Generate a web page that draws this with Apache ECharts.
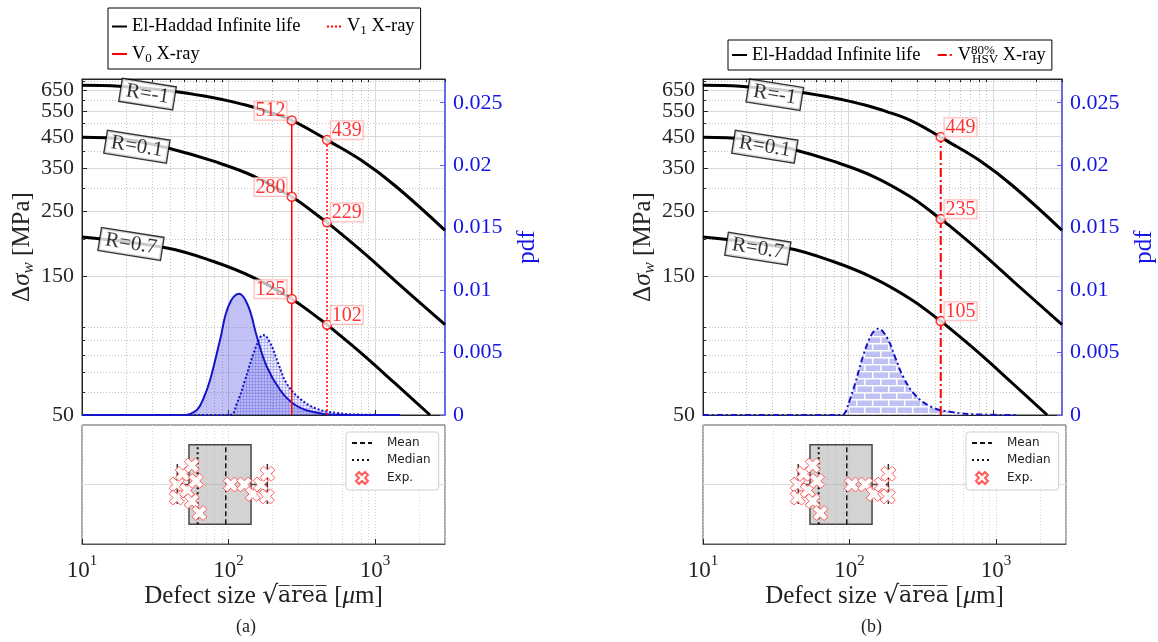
<!DOCTYPE html>
<html>
<head>
<meta charset="utf-8">
<script src="https://cdn.jsdelivr.net/npm/echarts@6/dist/echarts.min.js"></script>
<style>
  html, body { margin: 0; padding: 0; background: #fff; }
  #chart { width: 1158px; height: 642px; }
</style>
</head>
<body>
<div id="chart"></div>
<script>
// ---- El-Haddad infinite-life curves: [sqrt(area) in µm, Δσw in MPa] ----
const elHaddadRm1 = [[10, 676], [18, 671], [42, 645], [79, 612], [108, 592], [133, 577], [183, 550],
  [270, 512], [437, 449], [470, 439], [815, 372], [1377, 305], [3000, 215]];
const elHaddadR01 = [[10, 448], [20, 440], [42, 407], [79, 371], [148, 330], [270, 280],
  [437, 235], [470, 229], [815, 182], [1377, 144], [3000, 102]];
const elHaddadR07 = [[10, 204], [38, 187], [79, 168], [148, 148], [270, 125],
  [437, 105], [470, 102], [815, 81], [1377, 64], [2370, 50]];

// ---- defect-size probability densities: [sqrt(area) in µm, pdf] ----
const pdfV0 = [[10, 0], [50, 0], [60.7, 0.0004], [67.3, 0.0013], [74.8, 0.0028], [87.5, 0.006],
  [99.7, 0.0087], [118, 0.0097], [136.5, 0.0087], [155.8, 0.0063], [182, 0.0039], [225, 0.002],
  [277, 0.0009], [360, 0.0003], [519, 0.00003], [1480, 0]];
const pdfV1 = [[10, 0], [102, 0], [113.8, 0.0009], [129.6, 0.0028], [147.6, 0.0049], [164, 0.0062],
  [173, 0.0064], [192, 0.0058], [219, 0.0041], [250, 0.0025], [308, 0.0013], [400, 0.0005],
  [548, 0.00016], [789, 0.00003], [1480, 0]];
const pdfHSV = [[10, 0], [91, 0], [95.7, 0.0002], [103, 0.0012], [112, 0.0025], [128.7, 0.0049],
  [146.7, 0.0065], [162, 0.0069], [186, 0.0062], [212, 0.0046], [242, 0.003], [291, 0.0016],
  [378, 0.00064], [518, 0.00024], [789, 0.00005], [1480, 0]];

// ---- critical defect sizes and the resulting limits on each curve ----
const sizeV0 = 270, sizeV1 = 470, sizeHSV = 437;
const limitsV0 = [512, 280, 125];
const limitsV1 = [439, 229, 102];
const limitsHSV = [449, 235, 105];

// ---- experimental defects: [sqrt(area) in µm, vertical jitter] ----
const expDefects = [[44.3, 0.50], [44.3, 0.39], [48.7, 0.59], [51.9, 0.45], [56.1, 0.66], [56.1, 0.36],
  [60.0, 0.53], [63.2, 0.26], [103.5, 0.50], [128.2, 0.50], [146.3, 0.42], [165.9, 0.50],
  [184.1, 0.59], [182.3, 0.40]];
// whisker low, Q1, median, Q3, whisker high; then the mean
const boxStats = [44.7, 53.7, 61.6, 142.4, 184];
const meanSize = 95.7;

// ---- tick values ----
const sizeMajor = [10, 100, 1000];
const sizeMinor = [20, 30, 40, 50, 60, 70, 80, 90, 200, 300, 400, 500, 600, 700, 800, 900, 2000, 3000];
const stressTicks = [50, 150, 250, 350, 450, 550, 650];
const stressMinor = [60, 70, 80, 90, 100, 200, 300, 400, 500, 600, 700];
const pdfTicks = [0, 0.005, 0.01, 0.015, 0.02, 0.025];

// curve labels: [µm, MPa, text]
const curveLabelsA = [[28, 630, 'R=-1'], [23.7, 416, 'R=0.1'], [21.6, 193, 'R=0.7']];
const curveLabelsB = [[31.3, 627, 'R=-1'], [26.7, 416, 'R=0.1'], [23.9, 186, 'R=0.7']];

// ---- styling ----
const SERIF = '"Liberation Serif", "DejaVu Serif", serif';
const SANS = '"DejaVu Sans", sans-serif';
const AX = '#262626';
const RED = '#ff0000';
const BLUE = '#1414c8';
const BLUE_AXIS = '#1515e6';
const MAJ = '#d9d9d9';
const MIN = '#c2c2c2';
const BOX_LOW = 0.166, BOX_HIGH = 0.834, CAP_LOW = 0.336, CAP_HIGH = 0.672;

// fill patterns
function gridPattern() {
  const c = document.createElement('canvas');
  c.width = 3; c.height = 3;
  const g = c.getContext('2d');
  g.fillStyle = 'rgba(120,120,235,0.18)';
  g.fillRect(0, 0, 3, 3);
  g.fillStyle = 'rgba(80,80,225,0.45)';
  g.fillRect(0, 0, 3, 1);
  g.fillRect(0, 0, 1, 3);
  return c;
}
function brickPattern() {
  const c = document.createElement('canvas');
  c.width = 16; c.height = 14;
  const g = c.getContext('2d');
  g.fillStyle = '#a6a9ee';
  g.fillRect(0, 0, 16, 14);
  g.fillStyle = '#ffffff';
  g.fillRect(0, 0, 16, 1.5);
  g.fillRect(0, 7, 16, 1.5);
  g.fillRect(0, 0, 1.5, 7);
  g.fillRect(8, 7, 1.5, 7);
  return c;
}

const X_SYMBOL = 'path://M1,0 L2,1 L3,0 L4,1 L3,2 L4,3 L3,4 L2,3 L1,4 L0,3 L1,2 L0,1 Z';

const panels = [
  { left: 82, captionX: 236, caption: '(a)', labels: curveLabelsA },
  { left: 703, captionX: 861, caption: '(b)', labels: curveLabelsB }
];

const grid = [], xAxis = [], yAxis = [], series = [];

function sizeLabel(v) {
  return '{b|10}{s|' + Math.round(Math.log10(v)) + '}';
}
const stressLabelStyle = { margin: 8, fontFamily: SERIF, fontSize: 22, color: AX };

panels.forEach((pn, p) => {
  grid.push({ left: pn.left, top: 79, width: 363, height: 336, show: true, borderColor: AX, borderWidth: 1 });
  grid.push({ left: pn.left, top: 425, width: 363, height: 119, show: true, borderColor: '#555', borderWidth: 1 });
  const gTop = 2 * p, gBot = 2 * p + 1;

  // x axes: upper plot (major + minor), lower strip (major + minor)
  xAxis.push({
    type: 'log', gridIndex: gTop, min: 10, max: 3000, position: 'bottom',
    axisLine: { show: true, lineStyle: { color: AX } },
    axisTick: { show: true, inside: true, length: 5, customValues: sizeMajor, lineStyle: { color: AX } },
    axisLabel: { show: false },
    splitLine: { show: true, lineStyle: { color: MAJ, width: 1 } }
  });
  xAxis.push({
    type: 'log', gridIndex: gTop, min: 10, max: 3000, position: 'top',
    axisLine: { show: true, lineStyle: { color: AX } },
    axisTick: { show: true, inside: true, length: 3, customValues: sizeMinor, lineStyle: { color: AX } },
    axisLabel: { show: false },
    splitLine: { show: true, lineStyle: { color: MIN, width: 1, type: [1, 2] } }
  });
  xAxis.push({
    type: 'log', gridIndex: gBot, min: 10, max: 3000, position: 'bottom',
    axisLine: { show: true, lineStyle: { color: '#555' } },
    axisTick: { show: true, inside: true, length: 5, customValues: sizeMajor, lineStyle: { color: '#222' } },
    axisLabel: {
      show: true, customValues: sizeMajor, margin: 10, formatter: sizeLabel,
      showMinLabel: true, showMaxLabel: true, hideOverlap: false,
      rich: {
        b: { fontFamily: SERIF, fontSize: 23, color: '#222', lineHeight: 28, verticalAlign: 'bottom' },
        s: { fontFamily: SERIF, fontSize: 15, color: '#222', lineHeight: 15, verticalAlign: 'top' }
      }
    },
    splitLine: { show: true, lineStyle: { color: '#cfcfcf', width: 1, type: [1, 2] } },
    name: '{t|Defect size }{r|√}{o|a\u0305r\u0305e\u0305a\u0305}{t| [}{m|μ}{t|m]}',
    nameLocation: 'middle', nameGap: 40,
    nameTextStyle: {
      rich: {
        t: { fontFamily: SERIF, fontSize: 25, color: '#222' },
        r: { fontFamily: '"DejaVu Serif", serif', fontSize: 25, color: '#222' },
        o: { fontFamily: '"DejaVu Serif", serif', fontSize: 22, color: '#222' },
        m: { fontFamily: SERIF, fontSize: 25, fontStyle: 'italic', color: '#222' }
      }
    }
  });
  xAxis.push({
    type: 'log', gridIndex: gBot, min: 10, max: 3000, position: 'top',
    axisLine: { show: false }, axisTick: { show: false, customValues: sizeMinor }, axisLabel: { show: false },
    splitLine: { show: true, lineStyle: { color: '#d6d6d6', width: 1, type: [1, 2] } }
  });

  // y axes: stress (major + minor), pdf, lower strip
  // the topmost stress label sits on the minor-grid axis so the two close labels both stay visible
  yAxis.push({
    type: 'log', gridIndex: gTop, min: 50, max: 710, position: 'left',
    axisLine: { show: true, lineStyle: { color: AX } },
    axisTick: { show: true, inside: true, length: 5, customValues: stressTicks, lineStyle: { color: AX } },
    axisLabel: Object.assign({ show: true, customValues: stressTicks.slice(0, -1) }, stressLabelStyle),
    splitLine: { show: true, lineStyle: { color: MAJ, width: 1 } },
    name: '{d|Δ}{s|σ}{w|w}{t| [MPa]}', nameLocation: 'middle', nameRotate: 90, nameGap: 40,
    nameTextStyle: {
      rich: {
        d: { fontFamily: SERIF, fontSize: 25, color: AX },
        s: { fontFamily: SERIF, fontSize: 25, fontStyle: 'italic', color: AX },
        w: { fontFamily: SERIF, fontSize: 17, fontStyle: 'italic', color: AX, lineHeight: 14, verticalAlign: 'bottom' },
        t: { fontFamily: SERIF, fontSize: 25, color: AX, lineHeight: 30 }
      }
    }
  });
  yAxis.push({
    type: 'log', gridIndex: gTop, min: 50, max: 710, position: 'left',
    axisLine: { show: false },
    axisTick: { show: true, inside: true, length: 3, customValues: stressMinor, lineStyle: { color: AX } },
    axisLabel: Object.assign({ show: true, customValues: stressTicks.slice(-1) }, stressLabelStyle),
    splitLine: { show: true, lineStyle: { color: MIN, width: 1, type: [1, 2] } }
  });
  yAxis.push({
    type: 'value', gridIndex: gTop, min: 0, max: 0.0269, position: 'right',
    axisLine: { show: true, lineStyle: { color: '#5a5aff', width: 1.5 } },
    axisTick: { show: true, inside: true, length: 5, customValues: pdfTicks, lineStyle: { color: '#5a5aff' } },
    axisLabel: { show: true, customValues: pdfTicks, margin: 8, fontFamily: SERIF, fontSize: 22, color: BLUE_AXIS,
      formatter: v => (v === 0 ? '0' : String(+v.toFixed(3))) },
    splitLine: { show: false },
    name: 'pdf', nameLocation: 'middle', nameRotate: 90, nameGap: 70,
    nameTextStyle: { fontFamily: SERIF, fontSize: 25, color: BLUE_AXIS }
  });
  yAxis.push({
    type: 'value', gridIndex: gBot, min: 0, max: 1,
    axisLine: { show: false }, axisTick: { show: false, customValues: [0.5] }, axisLabel: { show: false },
    splitLine: { show: true, lineStyle: { color: '#dedede', width: 1 } }
  });

  const xi = 4 * p, yi = 4 * p;

  // probability densities
  if (p === 0) {
    series.push({
      type: 'line', name: 'pdf V0', xAxisIndex: xi, yAxisIndex: yi + 2, data: pdfV0, smooth: 0.4,
      symbol: 'none', silent: true, z: 2, itemStyle: { color: BLUE },
      lineStyle: { color: BLUE, width: 2 }, areaStyle: { color: 'rgba(60,60,225,0.45)', origin: 'start' }
    });
    series.push({
      type: 'line', name: 'pdf V1', xAxisIndex: xi, yAxisIndex: yi + 2, data: pdfV1, smooth: 0.4,
      symbol: 'none', silent: true, z: 2, itemStyle: { color: BLUE },
      lineStyle: { color: BLUE, width: 2, type: [2, 2] },
      areaStyle: { color: { image: gridPattern(), repeat: 'repeat' }, origin: 'start' }
    });
  } else {
    series.push({
      type: 'line', name: 'pdf HSV', xAxisIndex: xi, yAxisIndex: yi + 2, data: pdfHSV, smooth: 0.4,
      symbol: 'none', silent: true, z: 2, itemStyle: { color: BLUE },
      lineStyle: { color: BLUE, width: 2, type: [6, 3, 2, 3] },
      areaStyle: { color: { image: brickPattern(), repeat: 'repeat' }, origin: 'start' }
    });
  }

  // El-Haddad curves
  [elHaddadRm1, elHaddadR01, elHaddadR07].forEach(c => series.push({
    type: 'line', name: 'El-Haddad Infinite life', xAxisIndex: xi, yAxisIndex: yi, data: c,
    smooth: 0.4, symbol: 'none', silent: true, z: 4, itemStyle: { color: '#000' },
    lineStyle: { color: '#000', width: 3 }
  }));

  // curve labels
  series.push({
    type: 'scatter', name: 'curve labels', xAxisIndex: xi, yAxisIndex: yi, silent: true, z: 6,
    symbol: 'circle', symbolSize: 1, itemStyle: { color: 'rgba(0,0,0,0)' },
    data: pn.labels.map(l => ({ value: [l[0], l[1]], name: l[2] })),
    label: {
      show: true, position: 'inside', formatter: '{b}', rotate: -9,
      fontFamily: SERIF, fontSize: 21, color: '#000', backgroundColor: '#fff',
      borderColor: '#000', borderWidth: 1.3, padding: [1, 5, 0, 5], lineHeight: 21
    }
  });

  // critical-size markers
  const marks = p === 0
    ? [{ x: sizeV0, vals: limitsV0, name: 'V0 X-ray', type: 'solid', side: 'left', w: 1.5 },
       { x: sizeV1, vals: limitsV1, name: 'V1 X-ray', type: [2, 2], side: 'right', w: 1.5 }]
    : [{ x: sizeHSV, vals: limitsHSV, name: 'V80 HSV X-ray', type: [9, 3, 2, 3], side: 'right', w: 2 }];
  marks.forEach(m => {
    series.push({
      type: 'line', name: m.name, xAxisIndex: xi, yAxisIndex: yi,
      data: [[m.x, 50], [m.x, m.vals[0]]], symbol: 'none', silent: true, z: 5, itemStyle: { color: RED },
      lineStyle: { color: RED, width: m.w, type: m.type }
    });
    series.push({
      type: 'scatter', name: m.name + ' points', xAxisIndex: xi, yAxisIndex: yi, silent: true, z: 7,
      symbol: 'circle', symbolSize: 9,
      itemStyle: { color: '#fff', borderColor: RED, borderWidth: 1.5 },
      data: m.vals.map(v => [m.x, v]),
      label: {
        show: true, formatter: q => String(q.value[1]),
        position: m.side === 'left' ? [0, 4.5] : [9, 4.5],
        align: m.side === 'left' ? 'right' : 'left', verticalAlign: 'bottom',
        fontFamily: SERIF, fontSize: 20, color: RED, backgroundColor: 'rgba(255,255,255,0.9)',
        borderColor: '#ffa8a8', borderWidth: 1, padding: [1, 1, 0, 1], lineHeight: 17
      }
    });
  });

  // lower strip: box, whiskers, mean, median, experiments
  const bx = xi + 2, by = yi + 3;
  series.push({
    type: 'line', name: 'whisker low', xAxisIndex: bx, yAxisIndex: by, silent: true, z: 3,
    data: [[boxStats[0], 0.5], [boxStats[1], 0.5]], symbol: 'none',
    lineStyle: { color: '#444', width: 1.5 },
    markArea: {
      silent: true,
      itemStyle: { color: 'rgba(150,150,150,0.42)', borderColor: '#484848', borderWidth: 1.5 },
      data: [[{ coord: [boxStats[1], BOX_LOW] }, { coord: [boxStats[3], BOX_HIGH] }]]
    }
  });
  series.push({
    type: 'line', name: 'whisker high', xAxisIndex: bx, yAxisIndex: by, silent: true, z: 3,
    data: [[boxStats[3], 0.5], [boxStats[4], 0.5]], symbol: 'none', lineStyle: { color: '#444', width: 1.5 }
  });
  [boxStats[0], boxStats[4]].forEach(w => series.push({
    type: 'line', name: 'cap', xAxisIndex: bx, yAxisIndex: by, silent: true, z: 3,
    data: [[w, CAP_LOW], [w, CAP_HIGH]], symbol: 'none', lineStyle: { color: '#333', width: 1.5 }
  }));
  series.push({
    type: 'line', name: 'Mean', xAxisIndex: bx, yAxisIndex: by, silent: true, z: 4,
    data: [[meanSize, BOX_LOW], [meanSize, BOX_HIGH]], symbol: 'none', itemStyle: { color: '#111' },
    lineStyle: { color: '#111', width: 1.5, type: [5, 3] }
  });
  series.push({
    type: 'line', name: 'Median', xAxisIndex: bx, yAxisIndex: by, silent: true, z: 4,
    data: [[boxStats[2], BOX_LOW], [boxStats[2], BOX_HIGH]], symbol: 'none', itemStyle: { color: '#111' },
    lineStyle: { color: '#111', width: 2, type: [2, 3] }
  });
  series.push({
    type: 'scatter', name: 'Exp.', xAxisIndex: bx, yAxisIndex: by, silent: true, z: 6,
    symbol: X_SYMBOL, symbolSize: 15, data: expDefects,
    itemStyle: { color: '#fff', borderColor: '#ff5555', borderWidth: 1, opacity: 0.95 }
  });
});

const NB = '\u00a0';
const legendRich = {
  n: { fontFamily: SERIF, fontSize: 18.5, color: '#000', lineHeight: 22 },
  sub: { fontFamily: SERIF, fontSize: 13, color: '#000', lineHeight: 10, verticalAlign: 'bottom' },
  sup: { fontFamily: SERIF, fontSize: 13, color: '#000', lineHeight: 10, verticalAlign: 'top', width: 1 }
};
function legendTextA(name) {
  if (name === 'V0 X-ray') return '{n|V}{sub|0}{n| X-ray}';
  if (name === 'V1 X-ray') return '{n|V}{sub|1}{n| X-ray}';
  return '{n|El-Haddad Infinite life' + NB.repeat(4) + '}';
}
function legendTextB(name) {
  if (name === 'V80 HSV X-ray') return '{n|V}{sup|80%}{sub|HSV}{n| X-ray}';
  return '{n|El-Haddad Infinite life' + NB.repeat(2) + '}';
}
// legend entries drawn as plain line icons (no point symbol)
const lineEntry = name => ({ name, itemStyle: { opacity: 0 } });
const stripLegend = (left) => ({
  data: [lineEntry('Mean'), lineEntry('Median'), 'Exp.'], orient: 'vertical', left, top: 432,
  padding: [5, 8, 5, 5], itemGap: 5, itemWidth: 20, itemHeight: 12,
  backgroundColor: 'rgba(255,255,255,0.9)', borderColor: '#cfcfcf', borderWidth: 1, borderRadius: 3,
  textStyle: { fontFamily: SANS, fontSize: 12, color: '#222', padding: [0, 0, 0, 10] },
  selectedMode: false
});

const option = {
  animation: false,
  backgroundColor: '#fff',
  grid, xAxis, yAxis, series,
  legend: [
    {
      data: [lineEntry('El-Haddad Infinite life'), lineEntry('V1 X-ray'), lineEntry('V0 X-ray')],
      left: 108, top: 8, width: 314,
      padding: [9, 6, 4, 3], itemGap: 7, itemWidth: 15, itemHeight: 14,
      backgroundColor: '#fff', borderColor: '#000', borderWidth: 1,
      textStyle: { rich: legendRich }, formatter: legendTextA, selectedMode: false
    },
    {
      data: [lineEntry('El-Haddad Infinite life'), lineEntry('V80 HSV X-ray')], left: 728, top: 40,
      padding: [4, 6, 4, 3], itemGap: 7, itemWidth: 15, itemHeight: 14,
      backgroundColor: '#fff', borderColor: '#000', borderWidth: 1,
      textStyle: { rich: legendRich }, formatter: legendTextB, selectedMode: false
    },
    stripLegend(346),
    stripLegend(966)
  ],
  graphic: panels.map(pn => ({
    type: 'text', left: pn.captionX, top: 618,
    style: { text: pn.caption, fontFamily: SERIF, fontSize: 18, fill: '#222', textAlign: 'center' }
  }))
};

const chart = echarts.init(document.getElementById('chart'), null, { renderer: 'canvas' });
chart.setOption(option);
</script>
</body>
</html>
